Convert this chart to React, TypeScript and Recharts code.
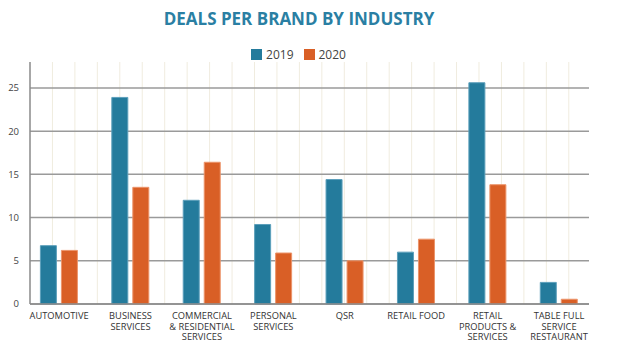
import React from "react";
import { BarChart, Bar, XAxis, YAxis, CartesianGrid } from "recharts";

const categories = [
  "AUTOMOTIVE",
  "BUSINESS\nSERVICES",
  "COMMERCIAL\n& RESIDENTIAL\nSERVICES",
  "PERSONAL\nSERVICES",
  "QSR",
  "RETAIL FOOD",
  "RETAIL\nPRODUCTS &\nSERVICES",
  "TABLE FULL\nSERVICE\nRESTAURANT",
];
const values2019 = [6.75, 23.9, 12.0, 9.2, 14.4, 6.0, 25.6, 2.5];
const values2020 = [6.2, 13.5, 16.4, 5.9, 5.0, 7.5, 13.8, 0.55];
const seriesNames = ["2019", "2020"];
const yTicks = [0, 5, 10, 15, 20, 25];
const gridTicks = [1, 2, 3, 4, 5, 6, 7, 8, 9, 10, 11, 12, 13, 14, 15, 16, 17, 18, 19, 20, 21, 22, 23, 24];
const GRID_DIVISIONS = 24.9;

const COLORS = ["#247b9c", "#d95f26"];
const STROKES = ["#5c9fbb", "#ec946a"];

const data = categories.map((name, i) => ({
  name,
  y2019: values2019[i],
  y2020: values2020[i],
}));

const FONT = "'Open Sans', sans-serif";

const CategoryTick = (props: any) => {
  const { x, y, payload } = props;
  const lines = String(payload.value).split("\n");
  return (
    <text x={x} y={y} textAnchor="middle" fontSize={9.3} fill="#333" fontFamily={FONT}>
      {lines.map((l: string, i: number) => (
        <tspan key={i} x={x} dy={i === 0 ? "0.75em" : 10.7}>
          {l}
        </tspan>
      ))}
    </text>
  );
};

export default function App() {
  return (
    <div style={{ position: "absolute", left: 0, top: 0, width: 624, height: 361, background: "#fff" }}>
      <div
        style={{
          position: "absolute",
          left: 0,
          top: 10,
          width: 598,
          textAlign: "center",
          fontFamily: FONT,
          fontWeight: 700,
          fontSize: 17,
          lineHeight: "17px",
          color: "#2a7fa3",
        }}
      >
        DEALS PER BRAND BY INDUSTRY
      </div>
      <div
        style={{
          position: "absolute",
          left: 0,
          top: 46,
          width: 597,
          display: "flex",
          justifyContent: "center",
          alignItems: "center",
          fontFamily: FONT,
          fontSize: 12,
          color: "#444",
          height: 17,
        }}
      >
        {seriesNames.map((n, i) => (
          <div key={n} style={{ display: "flex", alignItems: "center", marginRight: i === 0 ? 10 : 0 }}>
            <div style={{ width: 11, height: 11, background: COLORS[i], marginRight: 4 }} />
            <span>{n}</span>
          </div>
        ))}
      </div>
      <BarChart
        width={624}
        height={361}
        data={data}
        margin={{ top: 62, right: 35, bottom: 17, left: 0 }}
        barGap={5}
        barSize={16}
      >
        <CartesianGrid
          horizontal={false}
          syncWithTicks
          stroke="#f0ecdf"
          strokeWidth={1}
          verticalCoordinatesGenerator={({ offset }: any) =>
            gridTicks.map((t) => offset.left + (t / GRID_DIVISIONS) * offset.width)
          }
        />
        <CartesianGrid vertical={false} syncWithTicks stroke="#9a9a9a" strokeWidth={1.5} />
        <XAxis
          dataKey="name"
          interval={0}
          height={40}
          tickLine={false}
          axisLine={{ stroke: "#8a8a8a", strokeWidth: 1.5 }}
          padding={{ left: -6.6, right: -5.7 }}
          tick={<CategoryTick />}
        />
        <YAxis
          width={30}
          domain={[0, 28]}
          ticks={yTicks}
          tickLine={false}
          tickMargin={5}
          axisLine={{ stroke: "#8a8a8a", strokeWidth: 1.5 }}
          tick={{ fontSize: 9.5, fill: "#444", fontFamily: FONT }}
          interval={0}
        />
        <Bar dataKey="y2019" name={seriesNames[0]} fill={COLORS[0]} stroke={STROKES[0]} strokeWidth={1} isAnimationActive={false} />
        <Bar dataKey="y2020" name={seriesNames[1]} fill={COLORS[1]} stroke={STROKES[1]} strokeWidth={1} isAnimationActive={false} />
      </BarChart>
    </div>
  );
}
